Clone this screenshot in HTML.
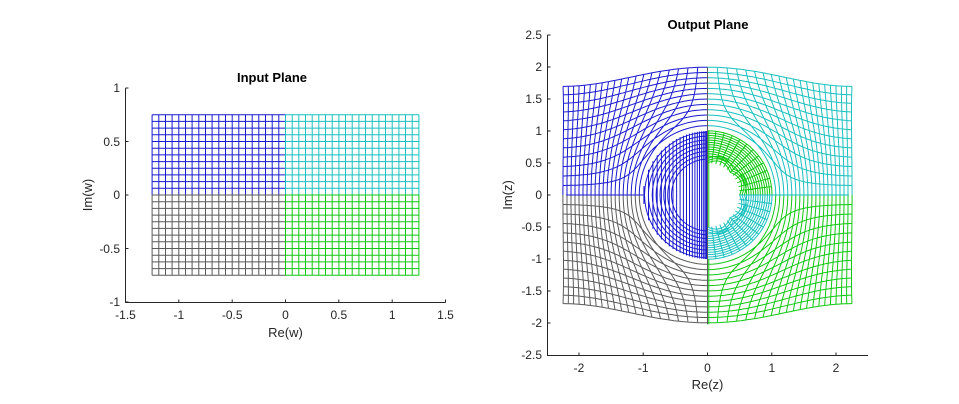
<!DOCTYPE html>
<html><head><meta charset="utf-8"><style>
html,body{margin:0;padding:0;background:#fff;width:959px;height:404px;overflow:hidden}
svg text{font-family:"Liberation Sans",Arial,sans-serif;fill:#262626}
</style></head><body>
<svg id="s" width="959" height="404" xmlns="http://www.w3.org/2000/svg">
<g id="plots" fill="none" stroke-width="1"></g>
<g stroke="#262626" stroke-width="1" fill="none">
<path d="M125.5,88V302.5H445.5"/>
<path d="M125.5,88h3M125.5,141.5h3M125.5,195h3M125.5,248.5h3M125.5,302h3"/>
<path d="M125.5,302.5v-3M178.8,302.5v-3M232.2,302.5v-3M285.5,302.5v-3M338.8,302.5v-3M392.2,302.5v-3M445.5,302.5v-3"/>
<path d="M547.5,35V355.5H868"/>
<path d="M547.5,35h3M547.5,67h3M547.5,99h3M547.5,131h3M547.5,163h3M547.5,195h3M547.5,227h3M547.5,259h3M547.5,291h3M547.5,323h3"/>
<path d="M579,355.5v-3M643.2,355.5v-3M707.5,355.5v-3M771.8,355.5v-3M836,355.5v-3"/>
</g>
<g font-size="12" text-anchor="end">
<text x="120" y="92">1</text><text x="120" y="146">0.5</text><text x="120" y="199">0</text><text x="120" y="253">-0.5</text><text x="120" y="306">-1</text>
<text x="542" y="39">2.5</text><text x="542" y="71">2</text><text x="542" y="103">1.5</text><text x="542" y="135">1</text><text x="542" y="167">0.5</text><text x="542" y="199">0</text><text x="542" y="231">-0.5</text><text x="542" y="263">-1</text><text x="542" y="295">-1.5</text><text x="542" y="327">-2</text><text x="542" y="359">-2.5</text>
</g>
<g font-size="12" text-anchor="middle">
<text x="125.5" y="319">-1.5</text><text x="178.8" y="319">-1</text><text x="232.2" y="319">-0.5</text><text x="285.5" y="319">0</text><text x="338.8" y="319">0.5</text><text x="392.2" y="319">1</text><text x="445.5" y="319">1.5</text>
<text x="579" y="372">-2</text><text x="643.2" y="372">-1</text><text x="707.5" y="372">0</text><text x="771.8" y="372">1</text><text x="836" y="372">2</text>
<text x="285.5" y="337" font-size="13">Re(w)</text>
<text x="707.5" y="389" font-size="13">Re(z)</text>
<text x="272" y="82" font-size="13" font-weight="bold" style="fill:#000">Input Plane</text>
<text x="708" y="29" font-size="13" font-weight="bold" style="fill:#000">Output Plane</text>
<text transform="translate(92,195) rotate(-90)" font-size="13">Im(w)</text>
<text transform="translate(512,195) rotate(-90)" font-size="13">Im(z)</text>
</g>
</svg>
<script>
var g=document.getElementById('plots');
function add(d,c){var p=document.createElementNS('http://www.w3.org/2000/svg','path');p.setAttribute('d',d);p.setAttribute('stroke',c);g.appendChild(p);}
var C={b:'#1a1ad0',c:'#19c0c0',k:'#5a5a5a',g:'#10c810'};
function col(sx,sy){return sy>0?(sx<0?C.b:C.c):(sx<0?C.k:C.g);}
function inp(x,y){return [285.5+x*106.7,195-y*107];}
function mp(x,y){var r=Math.sqrt(x*x+y*y);var ux=r>0?x/r:0,uy=r>0?y/r:0;
 var zx=1.0*x+0.2*x*y*y+ux,zy=1.33*y+0.158*y*x*x+uy;return [707.5+zx*64.25,195-zy*64];}
function line(f,pts){return 'M'+pts.map(function(p){var q=f(p[0],p[1]);return q[0].toFixed(1)+','+q[1].toFixed(1);}).join('L');}
[[-1,1],[1,1],[-1,-1],[1,-1]].forEach(function(s){
 var c=col(s[0],s[1]);var di='',dm='';
 for(var i=0;i<=20;i++){var x=s[0]*i*0.0625;var pts=[];for(var j=0;j<=60;j++)pts.push([x,s[1]*Math.pow(j/60,1.5)*0.75]);
  if(i>0)dm+=line(mp,pts);di+=line(inp,pts);}
 for(var j=0;j<=12;j++){var y=s[1]*j*0.0625;var pts=[];for(var i=0;i<=80;i++)pts.push([s[0]*Math.pow(i/80,1.5)*1.25,y]);
  if(j>0)dm+=line(mp,pts);di+=line(inp,pts);}
 add(di,c);add(dm,c);
});
var d='';
function Z(x,y){return (707.5+x*64.25).toFixed(1)+','+(195-y*64).toFixed(1);}
for(var k=1;k<=22;k++){var x=-Math.pow(k/22,1.6)*0.99;var h=Math.sqrt(1-x*x);d+='M'+Z(x,h)+'L'+Z(x,-h);}
for(var k=1;k<=8;k++){var r=0.5+k*0.06;d+='M'+Z(0,r);for(var a=90;a<=270;a+=6)d+='L'+Z(r*Math.cos(a*Math.PI/180),r*Math.sin(a*Math.PI/180));}
add(d,C.b);
var dg='',dc='';
for(var k=0;k<=14;k++){var r0=0.5+k*0.036;var s1='',s2='';
 for(var a=0;a<=90;a+=5){var rr=r0+(k<3?0.06*Math.abs(Math.sin(a*Math.PI/45)):0);
  s1+=(a?'L':'M')+Z(rr*Math.cos(a*Math.PI/180),rr*Math.sin(a*Math.PI/180));
  s2+=(a?'L':'M')+Z(rr*Math.cos(a*Math.PI/180),-rr*Math.sin(a*Math.PI/180));}
 dg+=s1;dc+=s2;}
for(var a=0;a<=90;a+=7.5){var c=Math.cos(a*Math.PI/180),s=Math.sin(a*Math.PI/180);
 dg+='M'+Z(0.5*c,0.5*s)+'L'+Z(1.0*c,1.0*s);dc+='M'+Z(0.5*c,-0.5*s)+'L'+Z(1.0*c,-1.0*s);}
add(dg,C.g);add(dc,C.c);
add('M'+Z(0,2)+'L'+Z(0,-2.02),C.k);
add('M'+Z(0.02,1)+'L'+Z(0.02,-0.5)+'M'+Z(0.02,-1)+'L'+Z(0.02,-2.02),C.g);
add('M'+Z(-2.2,0)+'L'+Z(-1,0),C.b);add('M'+Z(0.5,0)+'L'+Z(2.2,0),C.c);
</script>
</body></html>
